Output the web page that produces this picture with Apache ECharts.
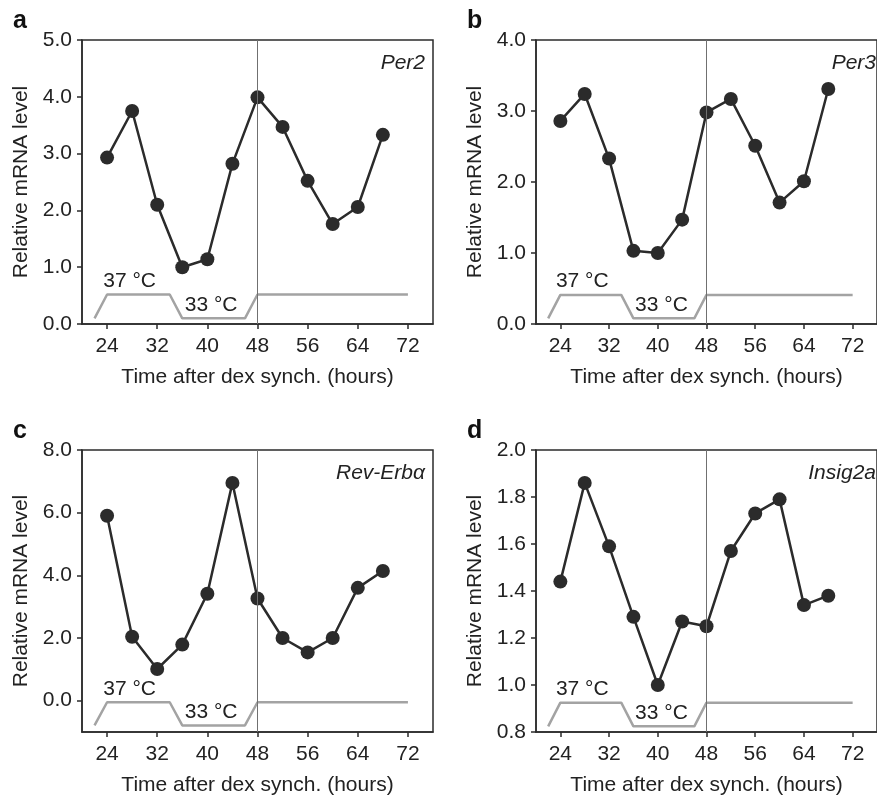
<!DOCTYPE html>
<html>
<head>
<meta charset="utf-8">
<script src="https://cdn.jsdelivr.net/npm/echarts@6/dist/echarts.min.js"></script>
<style>
  html, body { margin: 0; padding: 0; background: #fff; }
  #main { width: 877px; height: 797px; }
</style>
</head>
<body>
<div id="main"></div>
<script>
// sampling times (hours after dex)
var hours = [24, 28, 32, 36, 40, 44, 48, 52, 56, 60, 64, 68];
var per2 = [2.93, 3.75, 2.10, 1.00, 1.14, 2.82, 3.99, 3.47, 2.52, 1.76, 2.06, 3.33];
var per3 = [2.86, 3.24, 2.33, 1.03, 1.00, 1.47, 2.98, 3.17, 2.51, 1.71, 2.01, 3.31];
var revErba = [5.90, 2.04, 1.01, 1.79, 3.41, 6.95, 3.26, 2.00, 1.54, 2.00, 3.60, 4.14];
var insig2a = [1.44, 1.86, 1.59, 1.29, 1.00, 1.27, 1.25, 1.57, 1.73, 1.79, 1.34, 1.38];

// temperature schedule trace (drawn in each panel's y units)
var tempHours = [22, 24, 34, 36, 46, 48, 72];
var tempA = [0.10, 0.52, 0.52, 0.10, 0.10, 0.52, 0.52];
var tempB = [0.08, 0.41, 0.41, 0.08, 0.08, 0.41, 0.41];
var tempC = [-0.79, -0.05, -0.05, -0.79, -0.79, -0.05, -0.05];
var tempD = [0.824, 0.925, 0.925, 0.824, 0.824, 0.925, 0.925];
var tempLabels = ['37 °C', '33 °C'];
var tempLabelHours = [27.6, 40.6];

// tick labels
var xTicks = [24, 32, 40, 48, 56, 64, 72];
var yTicksA = [0, 1, 2, 3, 4, 5];
var yTicksB = [0, 1, 2, 3, 4];
var yTicksC = [0, 2, 4, 6, 8];
var yTicksD = [0.8, 1.0, 1.2, 1.4, 1.6, 1.8, 2.0];

var panels = [
  { letter: 'a', gene: 'Per2', values: per2, temp: tempA, yMin: 0, yMax: 5, ticks: yTicksA,
    grid: { left: 82, top: 40, width: 351, height: 284 } },
  { letter: 'b', gene: 'Per3', values: per3, temp: tempB, yMin: 0, yMax: 4, ticks: yTicksB,
    grid: { left: 536, top: 40, width: 352, height: 284 } },
  { letter: 'c', gene: 'Rev-Erbα', values: revErba, temp: tempC, yMin: -1, yMax: 8, ticks: yTicksC,
    grid: { left: 82, top: 450, width: 351, height: 286 } },
  { letter: 'd', gene: 'Insig2a', values: insig2a, temp: tempD, yMin: 0.8, yMax: 2.0, ticks: yTicksD,
    grid: { left: 536, top: 450, width: 352, height: 286 } }
];

var font = "'Liberation Sans', Arial, Helvetica, sans-serif";
var ink = '#2b2b2b';
var grey = '#a3a3a3';
var fs = 21;

var option = {
  animation: false,
  backgroundColor: '#fff',
  textStyle: { fontFamily: font },
  grid: [], xAxis: [], yAxis: [], series: [], graphic: []
};

panels.forEach(function (p, i) {
  var g = p.grid;
  option.grid.push({
    left: g.left, top: g.top, width: g.width, height: g.height,
    show: true, borderColor: ink, borderWidth: 1.5, backgroundColor: 'transparent'
  });
  option.xAxis.push({
    type: 'value', gridIndex: i, min: 20, max: 76,
    name: 'Time after dex synch. (hours)', nameLocation: 'middle', nameGap: 43,
    nameTextStyle: { fontSize: fs, color: '#222', fontFamily: font },
    axisLine: { onZero: false, lineStyle: { color: ink, width: 1.5 } },
    axisTick: { customValues: xTicks, length: 5, lineStyle: { color: ink, width: 1.5 } },
    axisLabel: { customValues: xTicks, fontSize: fs, color: '#222', margin: 12, fontFamily: font },
    splitLine: { show: false }
  });
  option.yAxis.push({
    type: 'value', gridIndex: i, min: p.yMin, max: p.yMax,
    name: 'Relative mRNA level', nameLocation: 'middle', nameGap: 50,
    nameTextStyle: { fontSize: fs, color: '#222', fontFamily: font },
    axisLine: { onZero: false, lineStyle: { color: ink, width: 1.5 } },
    axisTick: { customValues: p.ticks, length: 5, lineStyle: { color: ink, width: 1.5 } },
    axisLabel: {
      customValues: p.ticks, fontSize: fs, color: '#222', margin: 10, fontFamily: font,
      formatter: function (v) { return v.toFixed(1); }
    },
    splitLine: { show: false }
  });
  var hi = p.temp[1], lo = p.temp[0];
  option.series.push({
    type: 'line', xAxisIndex: i, yAxisIndex: i, silent: true,
    data: tempHours.map(function (h, k) { return [h, p.temp[k]]; }),
    symbol: 'none', lineStyle: { color: grey, width: 2.5 }, z: 2,
    markLine: {
      silent: true, symbol: 'none', label: { show: false },
      lineStyle: { color: '#707070', width: 1, type: 'solid' },
      data: [{ xAxis: 48 }]
    },
    markPoint: {
      symbol: 'circle', symbolSize: 0,
      label: { show: true, position: 'top', distance: 3, formatter: '{b}',
               fontSize: fs, color: '#222', fontFamily: font },
      data: [
        { name: tempLabels[0], coord: [tempLabelHours[0], hi] },
        { name: tempLabels[1], coord: [tempLabelHours[1], lo] }
      ]
    }
  });
  option.series.push({
    type: 'line', xAxisIndex: i, yAxisIndex: i, silent: true,
    data: hours.map(function (h, k) { return [h, p.values[k]]; }),
    symbol: 'circle', symbolSize: 14,
    itemStyle: { color: ink }, lineStyle: { color: ink, width: 2.5 }, z: 3
  });
  option.graphic.push({
    type: 'text', left: g.left - 69, top: g.top - 31,
    style: { text: p.letter, font: 'bold 25px ' + font, fill: '#111' }
  });
  var rightEdge = Math.min(g.left + g.width - 8, 876);
  option.graphic.push({
    type: 'text', right: 877 - rightEdge, top: g.top + 13,
    style: { text: p.gene, font: 'italic ' + fs + 'px ' + font, fill: '#222' }
  });
});

var chart = echarts.init(document.getElementById('main'));
chart.setOption(option);
</script>
</body>
</html>
